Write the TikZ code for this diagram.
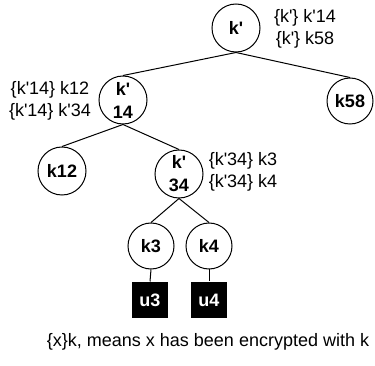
\documentclass[tikz,border=0pt]{standalone}
\usepackage{fontspec}
\setmainfont{Liberation Sans}
\usetikzlibrary{calc}
\newcommand{\ap}{\textquotesingle}

\begin{document}
\begin{tikzpicture}[x=1pt, y=-1pt, line width=1pt,
        key/.style={draw, circle, minimum size=48pt, inner sep=0pt, align=center,
            font=\fontsize{18}{23}\selectfont\bfseries},
        user/.style={fill=black, text=white, minimum size=36pt, inner sep=0pt,
            font=\fontsize{18}{23}\selectfont\bfseries},
        lbl/.style={align=center, font=\fontsize{18}{22}\selectfont}]
    \useasboundingbox (0,0) rectangle (375,366);
    \node[key] (k) at (236,28) {k\ap};
    \node[key] (k14) at (123,100) {k\ap\\14};
    \node[key, minimum size=46pt] (k58) at (350,101) {k58};
    \node[key] (k12) at (62,171) {k12};
    \node[key] (k34) at (179,174) {k\ap\\34};
    \node[key, minimum size=46pt] (k3) at (151,246) {k3};
    \node[key, minimum size=46pt] (k4) at (209,246) {k4};
    \node[user] (u3) at (150,300) {u3};
    \node[user] (u4) at (209,300) {u4};
    \draw (k.south) -- (k14.north);
    \draw (k.south) -- (k58.north);
    \draw (k14.south) -- (k12.north);
    \draw (k14.south) -- (k34.north);
    \draw (k34.south) -- (k3.north);
    \draw (k34.south) -- (k4.north);
    \draw (k3.south) -- (u3.north);
    \draw (k4.south) -- (u4.north);
    \node[lbl] (lk) at (305,29) {\{k\ap\} k\ap14\\\{k\ap\} k58};
    \node[lbl] (lk14) at (50,101) {\{k\ap14\} k12\\\{k\ap14\} k\ap34};
    \node[lbl] (lk34) at (243,172) {\{k\ap34\} k3\\\{k\ap34\} k4};
    \node[lbl] (note) at (208,342) {\{x\}k, means x has been encrypted with k};
\end{tikzpicture}
\end{document}
